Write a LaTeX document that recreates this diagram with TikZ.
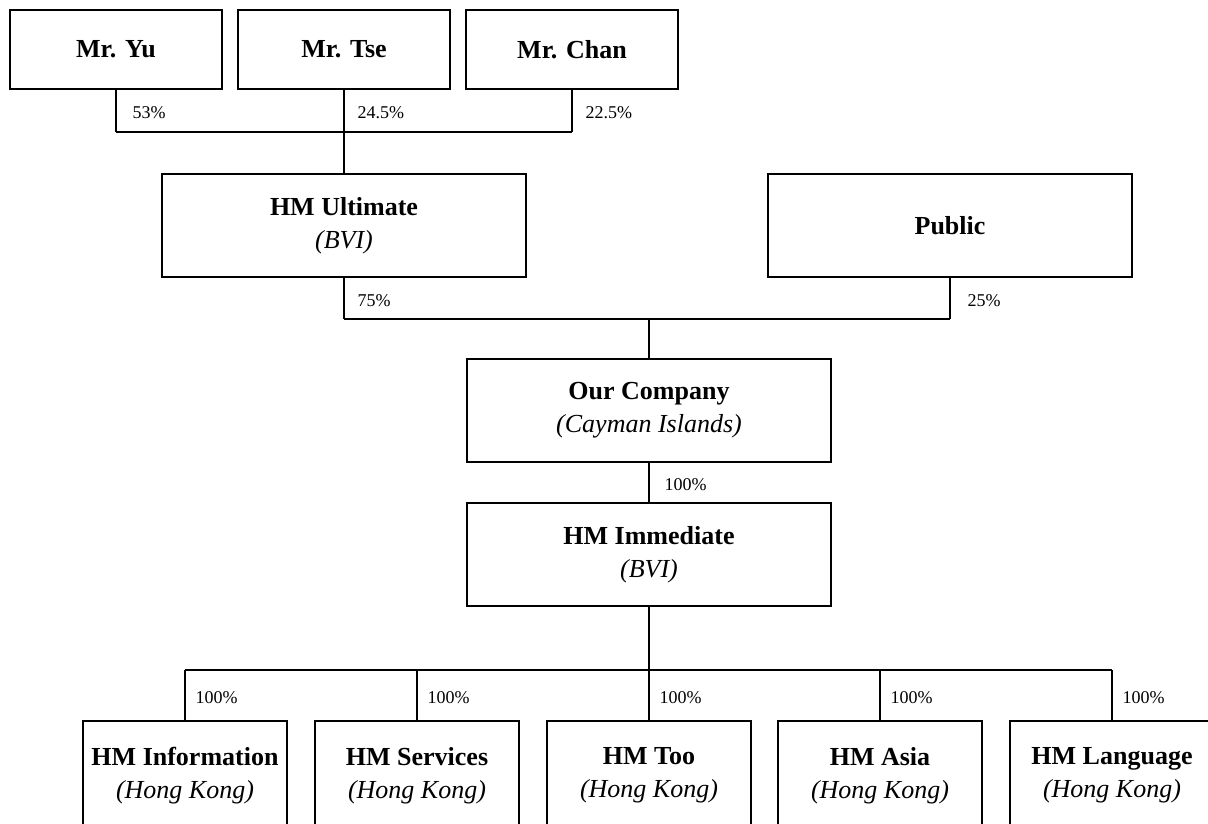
\documentclass[tikz,border=0pt]{standalone}
\usepackage{fontspec}
\setmainfont{Liberation Serif}

\tikzset{
	entity/.style={draw, line width=1.3pt, minimum width=212pt, minimum height=79pt, inner sep=0pt, align=center, font=\fontsize{26}{33}\selectfont\bfseries},
	widebox/.style={entity, minimum width=364pt, minimum height=103pt},
	subbox/.style={entity, minimum width=204pt, minimum height=109pt},
	share/.style={anchor=west, inner sep=0pt, xshift=13pt, yshift=-2pt, font=\fontsize{18}{20}\selectfont},
	link/.style={line width=1.3pt}
}
\newcommand{\juris}[1]{\\{\mdseries\itshape (#1)}}

\begin{document}
\begin{tikzpicture}[x=1pt, y=-1pt]
			\clip (0,0) rectangle (1208,823);
			
			\node[entity] (yu) at (116,49.5) {Mr. Yu};
			\node[entity] (tse) at (344,49.5) {Mr. Tse};
			\node[entity] (chan) at (572,49.5) {Mr. Chan};
			
			\node[widebox] (ult) at (344,225.5) {HM Ultimate\juris{BVI}};
			\node[widebox] (pub) at (950,225.5) {Public};
			
			\node[widebox] (comp) at (649,410.5) {Our Company\juris{Cayman Islands}};
			\node[widebox] (imm) at (649,554.5) {HM Immediate\juris{BVI}};
			
			\node[subbox] (info) at (185,775.5) {HM Information\juris{Hong Kong}};
			\node[subbox] (serv) at (417,775.5) {HM Services\juris{Hong Kong}};
			\node[subbox] (too) at (649,775.5) {HM Too\juris{Hong Kong}};
			\node[subbox] (asia) at (880,775.5) {HM Asia\juris{Hong Kong}};
			\node[subbox] (lang) at (1112,775.5) {HM Language\juris{Hong Kong}};
			
			\coordinate (j1) at (344,132);
			\coordinate (j2) at (649,319);
			\coordinate (j3) at (649,670);
			
			\draw[link] (yu.south) -- node[share, xshift=3pt] (pyu) {53\%} (yu.south |- j1);
			\draw[link] (tse.south) -- node[share] (ptse) {24.5\%} (j1) -- (ult.north);
			\draw[link] (chan.south) -- node[share] (pchan) {22.5\%} (chan.south |- j1);
			\draw[link] (yu.south |- j1) -- (chan.south |- j1);
			
			\draw[link] (ult.south) -- node[share] (pult) {75\%} (ult.south |- j2);
			\draw[link] (pub.south) -- node[share, xshift=4pt] (ppub) {25\%} (pub.south |- j2);
			\draw[link] (ult.south |- j2) -- (pub.south |- j2);
			\draw[link] (j2) -- (comp.north);
			
			\draw[link] (comp.south) -- node[share, xshift=2pt] (pcomp) {100\%} (imm.north);
			
			\draw[link] (imm.south) -- (j3);
			\draw[link] (info.north |- j3) -- (lang.north |- j3);
			\draw[link] (info.north |- j3) -- node[share, xshift=-3pt] (pinfo) {100\%} (info.north);
			\draw[link] (serv.north |- j3) -- node[share, xshift=-3pt] (pserv) {100\%} (serv.north);
			\draw[link] (too.north |- j3) -- node[share, xshift=-3pt] (ptoo) {100\%} (too.north);
			\draw[link] (asia.north |- j3) -- node[share, xshift=-3pt] (pasia) {100\%} (asia.north);
			\draw[link] (lang.north |- j3) -- node[share, xshift=-3pt] (plang) {100\%} (lang.north);
\end{tikzpicture}
\end{document}
